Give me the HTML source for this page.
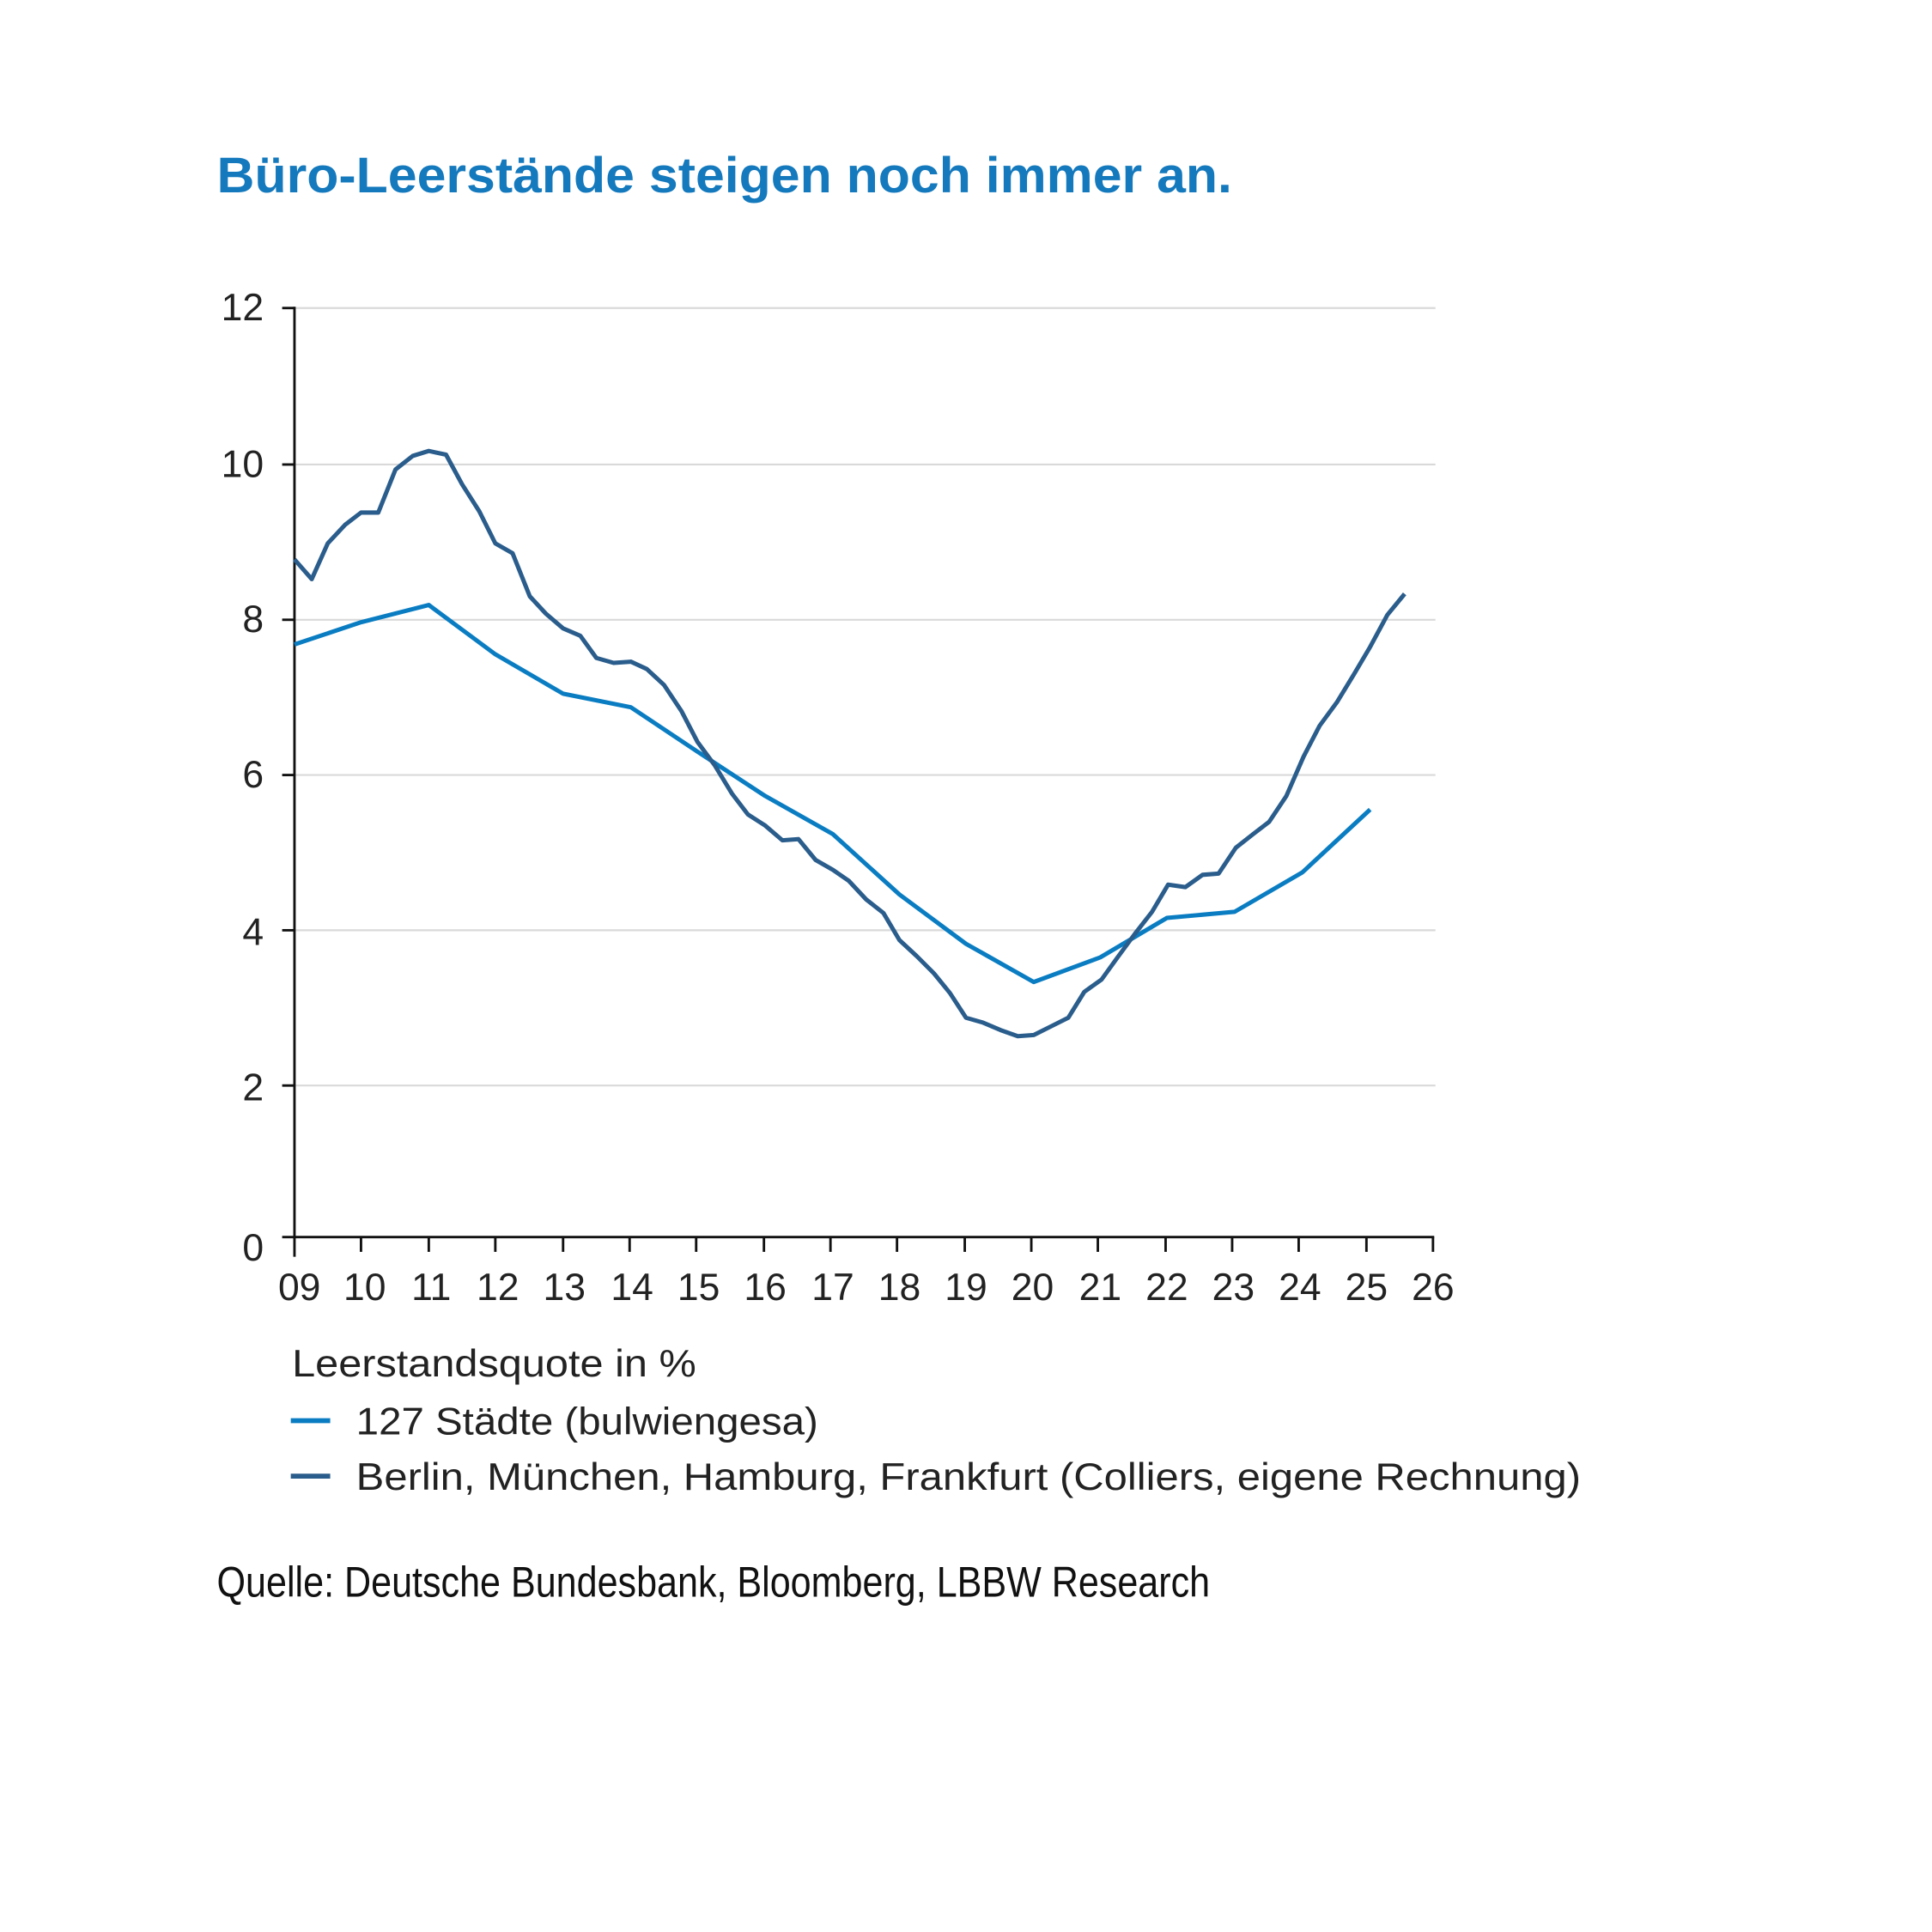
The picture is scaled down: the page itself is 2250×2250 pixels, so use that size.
<!DOCTYPE html>
<html><head><meta charset="utf-8"><style>html,body{margin:0;padding:0;background:#fff}svg{display:block}</style></head>
<body>
<svg width="2250" height="2250" viewBox="0 0 1568 1568" xmlns="http://www.w3.org/2000/svg" font-family="Liberation Sans, DejaVu Sans, sans-serif">
<rect width="1568" height="1568" fill="#fff"/>
<text x="176" y="156" font-size="41" font-weight="bold" fill="#1479bd" textLength="824" lengthAdjust="spacingAndGlyphs">Büro-Leerstände steigen noch immer an.</text>
<g stroke="#d9d9d9" stroke-width="1.5">
<line x1="239" x2="1165" y1="250" y2="250"/><line x1="239" x2="1165" y1="377" y2="377"/>
<line x1="239" x2="1165" y1="503" y2="503"/><line x1="239" x2="1165" y1="629" y2="629"/>
<line x1="239" x2="1165" y1="755" y2="755"/><line x1="239" x2="1165" y1="881" y2="881"/>
</g>
<g stroke="#111" stroke-width="2">
<line x1="239" y1="249" x2="239" y2="1004"/><line x1="238" y1="1004" x2="1164" y2="1004"/>
<line x1="229" x2="239" y1="250" y2="250"/><line x1="229" x2="239" y1="377" y2="377"/><line x1="229" x2="239" y1="503" y2="503"/><line x1="229" x2="239" y1="629" y2="629"/><line x1="229" x2="239" y1="755" y2="755"/><line x1="229" x2="239" y1="881" y2="881"/><line x1="229" x2="239" y1="1004" y2="1004"/>
<line x1="239" x2="239" y1="1004" y2="1020"/><line x1="293" x2="293" y1="1004" y2="1016"/><line x1="348" x2="348" y1="1004" y2="1016"/><line x1="402" x2="402" y1="1004" y2="1016"/><line x1="457" x2="457" y1="1004" y2="1016"/><line x1="511" x2="511" y1="1004" y2="1016"/><line x1="565" x2="565" y1="1004" y2="1016"/><line x1="620" x2="620" y1="1004" y2="1016"/><line x1="674" x2="674" y1="1004" y2="1016"/><line x1="728" x2="728" y1="1004" y2="1016"/><line x1="783" x2="783" y1="1004" y2="1016"/><line x1="837" x2="837" y1="1004" y2="1016"/><line x1="891" x2="891" y1="1004" y2="1016"/><line x1="946" x2="946" y1="1004" y2="1016"/><line x1="1000" x2="1000" y1="1004" y2="1016"/><line x1="1054" x2="1054" y1="1004" y2="1016"/><line x1="1109" x2="1109" y1="1004" y2="1016"/><line x1="1163" x2="1163" y1="1004" y2="1016"/>
</g>
<g font-size="31" fill="#222" text-anchor="end">
<text x="214" y="260">12</text><text x="214" y="387">10</text><text x="214" y="513">8</text><text x="214" y="639">6</text><text x="214" y="767">4</text><text x="214" y="893">2</text><text x="214" y="1023">0</text>
</g>
<g font-size="31" fill="#222" text-anchor="middle">
<text x="243" y="1055">09</text><text x="296" y="1055">10</text><text x="350" y="1055">11</text><text x="404" y="1055">12</text><text x="458" y="1055">13</text><text x="513" y="1055">14</text><text x="567" y="1055">15</text><text x="621" y="1055">16</text><text x="676" y="1055">17</text><text x="730" y="1055">18</text><text x="784" y="1055">19</text><text x="838" y="1055">20</text><text x="893" y="1055">21</text><text x="947" y="1055">22</text><text x="1001" y="1055">23</text><text x="1055" y="1055">24</text><text x="1109" y="1055">25</text><text x="1163" y="1055">26</text>
</g>
<polyline fill="none" stroke="#0a7dc2" stroke-width="3.5" stroke-linejoin="round" points="239,523 293,505 348,491 402,531 457,563 512,574 566,610 621,646 676,677 730,726 784,766 839,797 893,777 947,745 1002,740 1057,708 1112,657"/>
<polyline fill="none" stroke="#2a5d8c" stroke-width="3.5" stroke-linejoin="round" points="239,454 253,470 266,441 280,426 293,416 307,416 321,381 335,370 348,366 362,369 375,393 389,415 402,441 416,449 430,484 443,498 457,510 471,516 484,534 498,538 512,537 525,543 539,556 553,577 566,602 580,621 594,644 607,661 621,670 635,682 648,681 662,698 676,706 689,715 703,730 717,741 730,763 744,776 758,790 771,806 784,826 798,830 812,836 826,841 839,840 853,833 867,826 880,805 894,795 907,777 921,758 935,740 948,718 962,720 976,710 989,709 1003,688 1017,677 1030,667 1044,646 1058,614 1071,589 1085,570 1099,547 1112,525 1126,499 1140,482"/>
<g font-size="31" fill="#222">
<text x="237" y="1117" textLength="328" lengthAdjust="spacingAndGlyphs">Leerstandsquote in %</text>
<line x1="236" x2="268" y1="1153" y2="1153" stroke="#0a7dc2" stroke-width="4"/>
<text x="289" y="1164" textLength="375" lengthAdjust="spacingAndGlyphs">127 Städte (bulwiengesa)</text>
<line x1="236" x2="268" y1="1198" y2="1198" stroke="#2a5d8c" stroke-width="4"/>
<text x="289" y="1209" textLength="994" lengthAdjust="spacingAndGlyphs">Berlin, München, Hamburg, Frankfurt (Colliers, eigene Rechnung)</text>
</g>
<text x="176" y="1296" font-size="35" fill="#111" textLength="806" lengthAdjust="spacingAndGlyphs">Quelle: Deutsche Bundesbank, Bloomberg, LBBW Research</text>
</svg>
</body></html>
